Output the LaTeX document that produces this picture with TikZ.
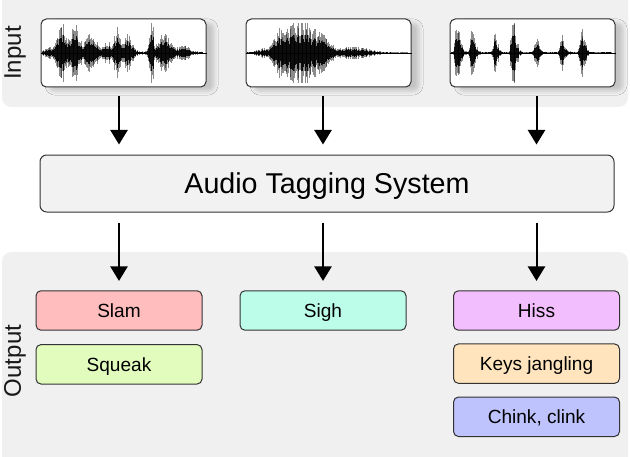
\documentclass[tikz,border=0pt]{standalone}
\usepackage{fontspec}
\setmainfont{Liberation Sans}
\usepackage{tikz}
\usetikzlibrary{positioning, arrows.meta, shadows.blur}
\definecolor{panelgray}{HTML}{F0F0F0}
\definecolor{boxgray}{HTML}{F2F2F2}
\definecolor{edgegray}{HTML}{333333}
\definecolor{slamred}{HTML}{FFBDBD}
\definecolor{squeakgreen}{HTML}{E2FCBE}
\definecolor{sighcyan}{HTML}{BCFDEA}
\definecolor{hissviolet}{HTML}{F2BEFD}
\definecolor{keysorange}{HTML}{FFE4BE}
\definecolor{chinkblue}{HTML}{BEC2FD}

\tikzset{declare function={
g(\t,\c,\w)=exp(-min(((\t-\c)/\w)*((\t-\c)/\w),20));
waveA(\t)=0.04+0.15*g(\t,0.04,0.03)+0.85*g(\t,0.12,0.035)+1.0*g(\t,0.2,0.03)+0.55*g(\t,0.3,0.05)+0.3*g(\t,0.41,0.03)+0.8*g(\t,0.465,0.018)+0.5*g(\t,0.53,0.04)+1.0*g(\t,0.68,0.015)+0.55*g(\t,0.76,0.05)+0.18*g(\t,0.88,0.05);
waveB(\t)=0.02+0.1*g(\t,0.09,0.05)+0.95*g(\t,0.33,0.11)+0.5*g(\t,0.2,0.05)+0.4*g(\t,0.47,0.06)+0.18*g(\t,0.66,0.12);
spike(\t,\c,\a)=\a*g(\t,\c,0.014)+0.3*\a*g(\t,\c+0.02,0.02);
waveC(\t)=0.03+spike(\t,0.036,1.0)+spike(\t,0.129,0.68)+spike(\t,0.27,0.5)+spike(\t,0.384,1.0)+spike(\t,0.528,0.45)+spike(\t,0.689,0.5)+spike(\t,0.815,0.65);
}}

% sound wave inside a box
\newcommand{\drawwaveform}[2]{%
\draw[line width=0.4pt] (#1.west) -- (#1.east);
\foreach \s in {0,...,200} {
\pgfmathsetmacro{\xo}{1.5+0.6*\s}
\pgfmathsetmacro{\env}{#2(\s/200)}
\pgfmathsetmacro{\outer}{min(26*\env*(0.5+0.55*rnd),22.5)}
\pgfmathsetmacro{\inner}{0.6*\outer}
\draw[line width=0.6pt, black, opacity=0.45] ([xshift=\xo pt, yshift=\outer pt]#1.west) -- ([xshift=\xo pt, yshift=-\outer pt]#1.west);
\draw[line width=0.6pt, black, opacity=0.9] ([xshift=\xo pt, yshift=\inner pt]#1.west) -- ([xshift=\xo pt, yshift=-\inner pt]#1.west);
}
}

\begin{document}
\begin{tikzpicture}[x=0.75pt, y=-0.75pt,
wavebox/.style={
draw=edgegray,
line width=0.75pt,
fill=white,
rounded corners=4pt,
minimum width=123.75pt,
minimum height=51pt,
inner sep=0pt,
blur shadow={shadow xshift=6pt, shadow yshift=-3pt, shadow opacity=18, shadow blur radius=3pt}
},
tagbox/.style={
draw=edgegray,
line width=0.75pt,
rounded corners=3.75pt,
minimum width=124.5pt,
minimum height=29.6pt,
inner sep=0pt,
text height=10.2pt,
text depth=0pt,
font=\fontsize{14.3}{16}\selectfont
},
sidelabel/.style={rotate=90, font=\fontsize{18}{20}\selectfont, text=black!90},
flow/.style={line width=1.5pt, -{Triangle[length=11pt, width=13pt]}}]

\useasboundingbox (0,0) rectangle (630,456);
\clip (0,0) rectangle (630,456);

% panels
\fill[panelgray, rounded corners=7pt] (2,-12) rectangle (628,107);
\fill[panelgray, rounded corners=7pt] (2,252) rectangle (628,470);

\node[sidelabel] (inputlabel) at (15,53) {Input};
\node[sidelabel] (outputlabel) at (15,361) {Output};

% inputs
\node[wavebox] (wave1) at (123.5,53) {};
\node[wavebox] (wave2) [right = 29.25pt of wave1] {};
\node[wavebox] (wave3) [right = 28.5pt of wave2] {};

\pgfmathsetseed{11}
\drawwaveform{wave1}{waveA}
\drawwaveform{wave2}{waveB}
\drawwaveform{wave3}{waveC}

% system
\node[draw=edgegray, line width=0.75pt, fill=boxgray, rounded corners=5pt,
minimum width=430.5pt, minimum height=42.75pt, inner sep=0pt,
text height=15.4pt, text depth=0pt,
font=\fontsize{21.5}{24}\selectfont] (tagger) at (327,183.5) {Audio Tagging System};

% outputs
\node[tagbox, fill=slamred] (slam) at (119,310.5) {Slam};
\node[tagbox, fill=squeakgreen] (squeak) [below = 10pt of slam] {Squeak};
\node[tagbox, fill=sighcyan] (sigh) at (323,310.5) {Sigh};
\node[tagbox, fill=hissviolet] (hiss) at (536.5,310.5) {Hiss};
\node[tagbox, fill=keysorange] (keys) [below = 9.5pt of hiss] {Keys jangling};
\node[tagbox, fill=chinkblue] (chink) [below = 9.5pt of keys] {Chink, clink};

% connections
\foreach \src/\dst in {wave1/slam, wave2/sigh, wave3/hiss} {
\draw[flow, shorten <=6.75pt, shorten >=7.5pt] (\dst |- \src.south) to (\dst |- tagger.north);
\draw[flow, shorten <=7.5pt, shorten >=7pt] (\dst |- tagger.south) to (\dst.north);
}

\end{tikzpicture}
\end{document}
